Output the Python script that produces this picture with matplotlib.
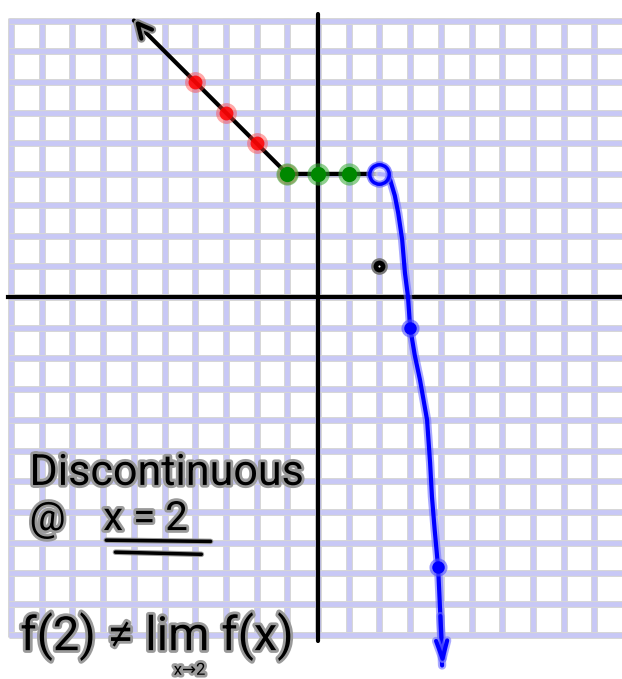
import matplotlib.pyplot as plt
import matplotlib.patheffects as pe

# piece 1: ray y = -x + 3 heading up-left, with sample points
ray_x = [-1, -6]
ray_y = [4, 9]
red_x = [-4, -3, -2, -1]
red_y = [7, 6, 5, 4]

# piece 2: constant segment y = 4 on [-1, 2)
flat_x = [-1, 2]
flat_y = [4, 4]
green_x = [-1, 0, 1]
green_y = [4, 4, 4]

# isolated value f(2) = 1
dot_x = [2]
dot_y = [1]

# piece 3: steep decreasing branch starting at the hole (2, 4)
curve_x = [2.0, 2.2, 2.35, 2.5, 2.61, 2.74, 2.83, 2.93, 3.0, 3.15, 3.32, 3.55,
           3.65, 3.71, 3.8, 3.91, 3.98, 4.04]
curve_y = [4.0, 3.98, 3.81, 3.3, 2.74, 1.86, 0.78, 0.0, -1.0, -1.9, -2.70, -4.0,
           -5.41, -6.51, -7.6, -8.8, -10.3, -12.0]
blue_x = [3.0, 3.91]
blue_y = [-1.0, -8.8]

grid_cols = range(-10, 11)
grid_rows = range(-11, 10)

fig = plt.figure(figsize=(6.22, 6.79), dpi=100)
ax = fig.add_axes([0, 0, 1, 1])
ax.set_xlim(-10.36, 9.90)
ax.set_ylim(-12.44, 9.67)
ax.axis('off')

# graph paper
rim = [pe.Stroke(linewidth=5.0, foreground='#d6d6d6'), pe.Normal()]
ax.vlines(list(grid_cols), -11.08, 9.08, colors='#c8c8f6', linewidth=3.4,
          path_effects=rim, zorder=1)
ax.hlines(list(grid_rows), -10.08, 10.08, colors='#c8c8f6', linewidth=3.4,
          path_effects=rim, zorder=1)

# coordinate axes
ax.plot([0, 0], [9.2, -11.2], color='black', lw=3, solid_capstyle='round', zorder=3)
ax.plot([-10.1, 10], [0, 0], color='black', lw=3, zorder=3)

halo_grey = [pe.Stroke(linewidth=6, foreground='#8c8c8c'), pe.Normal()]

# ray with hand-drawn arrow head
ax.plot(ray_x, ray_y, color='black', lw=3, solid_capstyle='round', zorder=4)
ax.annotate('', xy=(ray_x[1] - 0.03, ray_y[1] + 0.09),
            xytext=(ray_x[1] + 0.3, ray_y[1] - 0.3),
            arrowprops=dict(arrowstyle='->,head_length=1.0,head_width=0.5',
                            color='black', lw=3, path_effects=halo_grey),
            zorder=5)

ax.plot(red_x, red_y, 'o', color='#ff4040', ms=15, alpha=0.45, mec='none', zorder=5)
ax.plot(red_x, red_y, 'o', color='#ff0000', ms=10, alpha=0.85, mec='none', zorder=5)

ax.plot(flat_x, flat_y, color='black', lw=3, zorder=4)
ax.plot(green_x, green_y, 'o', color='#33aa33', ms=16, alpha=0.55, mec='none', zorder=6)
ax.plot(green_x, green_y, 'o', color='#008800', ms=11, mec='none', zorder=6)

# value at x = 2
ax.plot(dot_x, dot_y, 'o', color='#777777', ms=12, mec='none', zorder=6)
ax.plot(dot_x, dot_y, 'o', color='black', ms=8.5, mec='none', zorder=6)
ax.plot(dot_x, dot_y, 'o', color='white', ms=1.5, mec='none', zorder=7)

# decreasing branch
blue_halo = [pe.Stroke(linewidth=6, foreground='#7070ff', alpha=0.6), pe.Normal()]
ax.plot(curve_x, curve_y, color='#0000ff', lw=3, path_effects=blue_halo,
        solid_capstyle='round', solid_joinstyle='round', zorder=5)
ax.annotate('', xy=(curve_x[-1] + 0.03, curve_y[-1] - 0.1),
            xytext=(curve_x[-2], curve_y[-2]),
            arrowprops=dict(arrowstyle='->,head_length=1.3,head_width=0.4',
                            color='#0000ff', lw=3, path_effects=blue_halo),
            zorder=5)
ax.plot(blue_x, blue_y, 'o', color='#5050ff', ms=13, alpha=0.6, mec='none', zorder=6)
ax.plot(blue_x, blue_y, 'o', color='#0000ff', ms=9, mec='none', zorder=6)

# hole at (2, 4)
ax.plot([curve_x[0]], [curve_y[0]], 'o', mfc='white', mec='#6060ff', mew=5,
        ms=14, alpha=0.7, zorder=7)
ax.plot([curve_x[0]], [curve_y[0]], 'o', mfc='none', mec='#0000ff', mew=2.5,
        ms=14, zorder=8)

# handwritten notes
ink = [pe.withStroke(linewidth=4, foreground='#9a9a9a')]
fam = ['Roboto', 'DejaVu Sans']
ax.text(-9.4, -6.12, 'Discontinuous', fontsize=31, family=fam,
        color='black', path_effects=ink, zorder=9)
ax.text(-9.4, -7.59, '@', fontsize=29, family=fam, color='black',
        path_effects=ink, zorder=9)
ax.text(-7.0, -7.59, 'x = 2', fontsize=29, family=fam, color='black',
        path_effects=ink, zorder=9)
ax.plot([-6.9, -3.5], [-7.92, -7.96], color='black', lw=2.5,
        path_effects=ink, solid_capstyle='round', zorder=9)
ax.plot([-6.6, -3.8], [-8.31, -8.38], color='black', lw=2.5,
        path_effects=ink, solid_capstyle='round', zorder=9)
ax.text(-9.7, -11.5, 'f(2) ≠ lim f(x)', fontsize=34, family=fam,
        color='black', path_effects=ink, zorder=9)
ax.text(-4.7, -12.4, 'x→2', fontsize=12, family=fam, color='black',
        va='bottom', path_effects=ink, zorder=9)

plt.savefig('out.png', dpi=100)
plt.close()
